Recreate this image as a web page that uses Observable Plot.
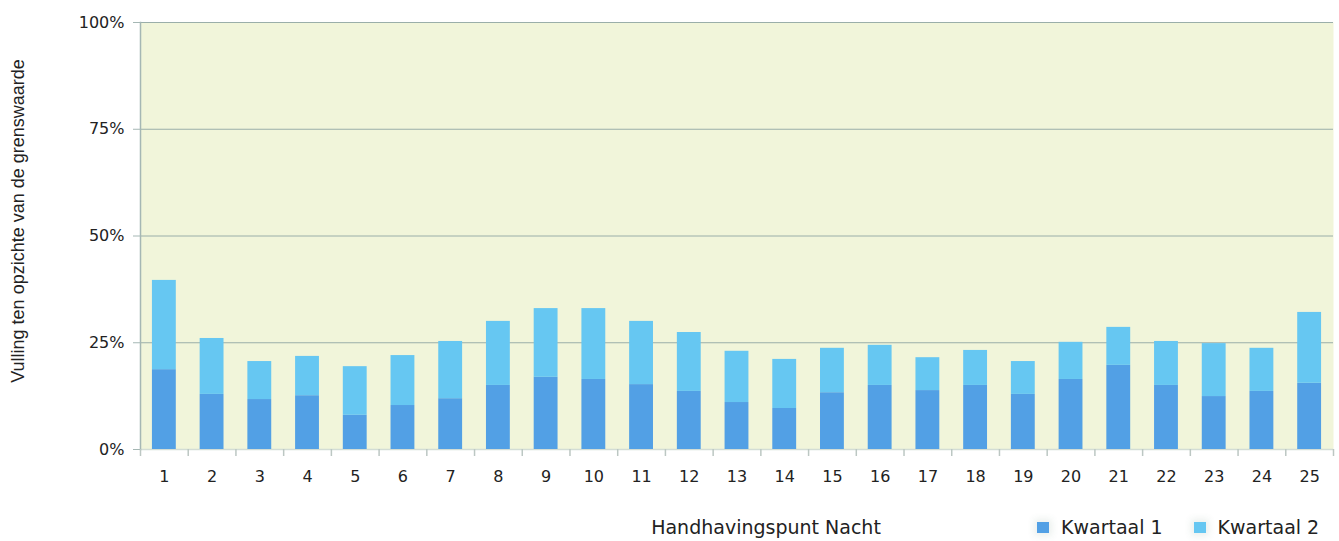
<!DOCTYPE html>
<html>
<head>
<meta charset="utf-8">
<script src="https://cdn.jsdelivr.net/npm/d3@7"></script>
<script src="https://cdn.jsdelivr.net/npm/@observablehq/plot@0.6"></script>
<style>
  html, body { margin: 0; padding: 0; background: #fff; }
  #wrap { position: relative; width: 1339px; }
  #below { position: relative; width: 1339px; height: 36px; font-family: "DejaVu Sans", sans-serif; color: #222; }
  #xtitle { position: absolute; left: 766px; top: 11px; transform: translateX(-50%); font-size: 19px; white-space: nowrap; }
  #legend { position: absolute; left: 1037px; top: 11px; display: flex; align-items: center; font-size: 19px; white-space: nowrap; }
  .sw { display: inline-block; width: 12px; height: 11px; margin-right: 12px; box-shadow: 0 0 7px 3px rgba(60,110,80,0.10); }
  .item { display: flex; align-items: center; margin-right: 31px; }
</style>
</head>
<body>
<div id="wrap"><div id="chart"></div>
<div id="below">
  <div id="xtitle"></div>
  <div id="legend"></div>
</div>
</div>
<script>
const categories = ["1","2","3","4","5","6","7","8","9","10","11","12","13","14","15","16","17","18","19","20","21","22","23","24","25"];
const seriesNames = ["Kwartaal 1", "Kwartaal 2"];
const kwartaal1 = [18.7,12.9,11.7,12.6,8.0,10.3,11.9,15.0,16.9,16.4,15.2,13.6,11.0,9.6,13.3,15.0,13.8,15.0,12.9,16.4,19.7,15.0,12.4,13.6,15.5];
const kwartaal2 = [20.9,13.1,8.9,9.2,11.4,11.7,13.4,15.0,16.1,16.6,14.8,13.8,12.0,11.5,10.4,9.4,7.7,8.2,7.7,8.7,8.9,10.3,12.4,10.1,16.6];
const yTicks = [0, 25, 50, 75, 100];
const yTitle = "Vulling ten opzichte van de grenswaarde";
const xTitle = "Handhavingspunt Nacht";
const colors = ["#52a0e5", "#66c7f2"];

const rows = [];
categories.forEach((c, i) => {
  rows.push({cat: c, series: seriesNames[0], value: kwartaal1[i]});
  rows.push({cat: c, series: seriesNames[1], value: kwartaal2[i]});
});

const W = 1339, H = 505, mL = 140, mR = 6, mT = 22, mB = 56;
const pInner = 0.5, pOuter = 0.25;
const step = (W - mL - mR) / (categories.length - pInner + 2 * pOuter);

const plot = Plot.plot({
  width: W, height: H,
  marginLeft: mL, marginRight: mR, marginTop: mT, marginBottom: mB,
  style: {fontFamily: "DejaVu Sans, sans-serif", fontSize: "16px", color: "#222", background: "#fff"},
  x: {domain: categories, paddingInner: pInner, paddingOuter: pOuter, align: 0.5, round: false, axis: null},
  y: {domain: [0, 100], axis: null},
  color: {domain: seriesNames, range: colors},
  marks: [
    Plot.frame({fill: "#f1f5da", stroke: null}),
    Plot.gridY(yTicks.filter(d => d > 0), {stroke: "#9aaea9", strokeOpacity: 1}),
    Plot.ruleY([0], {stroke: "#d3ddd5", strokeWidth: 1.5}),
    Plot.barY(rows, {x: "cat", y: "value", fill: "series"}),
    Plot.frame({anchor: "left", stroke: "#a5b7b4", strokeWidth: 1.5}),
    Plot.axisY(yTicks, {tickSize: 7, tickPadding: 9, tickFormat: d => d + "%", stroke: "#a5b7b4", fill: "#222", label: null, fontSize: 16}),
    Plot.axisX({tickSize: 0, tickPadding: 21, label: null, fill: "#222", fontSize: 16}),
    Plot.axisX({tickSize: 7, tickFormat: () => "", dx: -step / 2, stroke: "#bcc7c3", strokeWidth: 1.5, label: null}),
    Plot.axisX([categories[categories.length - 1]], {tickSize: 7, tickFormat: () => "", dx: step / 2, stroke: "#bcc7c3", strokeWidth: 1.5, label: null}),
    Plot.text([yTitle], {frameAnchor: "left", textAnchor: "middle", dx: -122, dy: -15, rotate: -90, text: d => d, fontFamily: "Liberation Sans, Arial, sans-serif", fontSize: 18, fill: "#222"})
  ]
});
document.getElementById("chart").appendChild(plot);

document.getElementById("xtitle").textContent = xTitle;
const leg = document.getElementById("legend");
seriesNames.forEach((s, i) => {
  const it = document.createElement("div");
  it.className = "item";
  const sw = document.createElement("span");
  sw.className = "sw";
  sw.style.background = colors[i];
  const t = document.createElement("span");
  t.textContent = s;
  it.appendChild(sw); it.appendChild(t);
  leg.appendChild(it);
});
</script>
</body>
</html>
